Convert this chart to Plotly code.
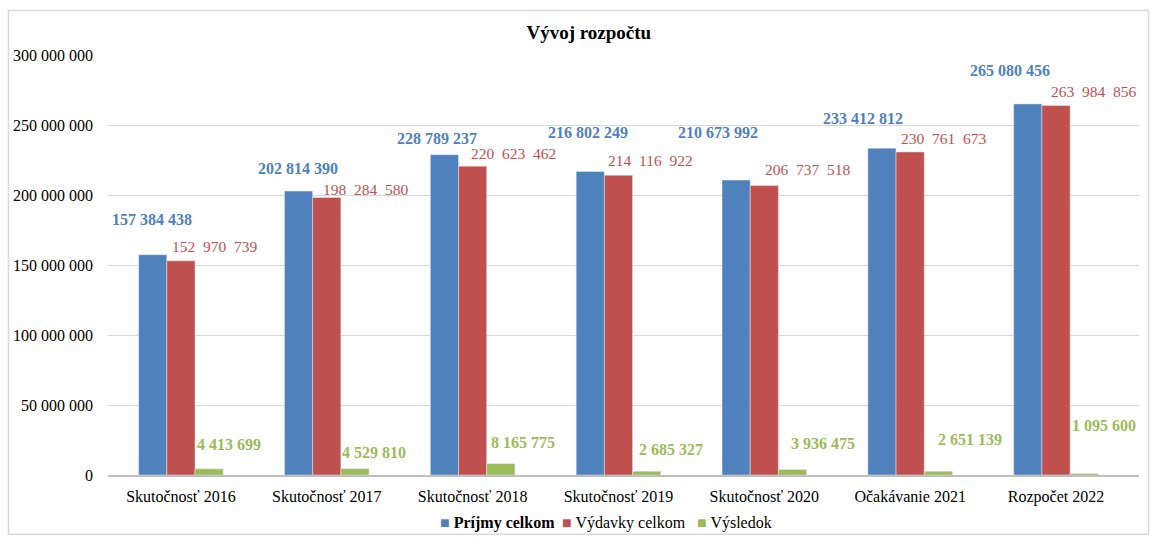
import plotly.graph_objects as go

categories = ["Skutočnosť 2016", "Skutočnosť 2017", "Skutočnosť 2018", "Skutočnosť 2019",
              "Skutočnosť 2020", "Očakávanie 2021", "Rozpočet 2022"]
prijmy = [157384438, 202814390, 228789237, 216802249, 210673992, 233412812, 265080456]
vydavky = [152970739, 198284580, 220623462, 214116922, 206737518, 230761673, 263984856]
vysledok = [4413699, 4529810, 8165775, 2685327, 3936475, 2651139, 1095600]
tick_vals = [0, 50000000, 100000000, 150000000, 200000000, 250000000, 300000000]
series_names = ["<b>Príjmy celkom</b>", "Výdavky celkom", "Výsledok"]

# label placement offsets (pixels) relative to category centre / bar top
blue_dx = [-29, -29, -36, -30, -46, -47, -46]
blue_dy = [35, 23, 16, 39, 48, 30, 33]
red_dx = [34, 39, 41, 32, 44, 34, 38]
red_dy = [14, 8, 13, 15, 16, 13, 14]
green_dx = [48, 47, 50, 53, 59, 60, 48]
green_dy = [24, 16, 21, 22, 26, 32, 48]

BLUE, RED, GREEN = "#4F81BD", "#C0504D", "#9BBB59"
COLORS = [BLUE, RED, GREEN]
FONT = "Times New Roman, Liberation Serif, serif"


def fmt(v, sep=" "):
    return f"{v:,}".replace(",", sep)


fig = go.Figure()
for name, vals, col in zip(series_names, [prijmy, vydavky, vysledok], COLORS):
    fig.add_bar(x=categories, y=vals, name=name, marker_color=col, showlegend=False)

ann = []
for i, c in enumerate(categories):
    ann.append(dict(x=c, y=prijmy[i], xref="x", yref="y", text="<b>" + fmt(prijmy[i]) + "</b>",
                    showarrow=False, xshift=blue_dx[i], yshift=blue_dy[i],
                    font=dict(family=FONT, size=16, color=BLUE)))
    ann.append(dict(x=c, y=vydavky[i], xref="x", yref="y", text=fmt(vydavky[i], "\u2002"),
                    showarrow=False, xshift=red_dx[i], yshift=red_dy[i],
                    font=dict(family=FONT, size=15.5, color=RED)))
    ann.append(dict(x=c, y=vysledok[i], xref="x", yref="y", text="<b>" + fmt(vysledok[i]) + "</b>",
                    showarrow=False, xshift=green_dx[i], yshift=green_dy[i],
                    font=dict(family=FONT, size=16, color=GREEN)))

W, H = 1150, 537
L, R, T, B = 108, 1139, 54.5, 475.5
pw, ph = R - L, B - T


def px(x):
    return (x - L) / pw


def py(y):
    return (B - y) / ph


# manual legend
legend_x = [438, 560, 695]
for name, col, lx in zip(series_names, COLORS, legend_x):
    ann.append(dict(xref="paper", yref="paper", x=px(lx), y=py(524), xanchor="left", yanchor="middle",
                    showarrow=False,
                    text=f'<span style="color:{col}">■</span> {name}',
                    font=dict(family=FONT, size=16, color="black")))

fig.update_layout(
    width=W, height=H,
    margin=dict(l=L, r=W - R, t=T, b=H - B, autoexpand=False),
    paper_bgcolor="white", plot_bgcolor="white",
    barmode="group", bargap=0.42, bargroupgap=0,
    showlegend=False,
    title=dict(text="<b>Vývoj rozpočtu</b>", x=0.512, xanchor="center", y=1 - 32 / H, yanchor="middle",
               font=dict(family=FONT, size=19, color="black")),
    font=dict(family=FONT, size=16, color="black"),
    annotations=ann,
    shapes=[dict(type="rect", xref="paper", yref="paper",
                 x0=px(8.5), x1=px(1148.5), y0=py(535), y1=py(10),
                 line=dict(color="#D9D9D9", width=1.5), fillcolor="rgba(0,0,0,0)", layer="below")],
)
fig.update_yaxes(range=[0, 300000000], tickvals=tick_vals, ticktext=[fmt(v) for v in tick_vals],
                 showgrid=True, gridcolor="#D9D9D9", gridwidth=1.3, zeroline=False,
                 showline=False, ticks="", ticklabelstandoff=14, automargin=False,
                 tickfont=dict(family=FONT, size=16, color="black"))
fig.update_xaxes(showline=True, linecolor="#BFBFBF", linewidth=1.5, ticks="", automargin=False,
                 tickfont=dict(family=FONT, size=16, color="black"), ticklabelstandoff=6)

fig.write_html("out.html", config={"displayModeBar": False},
               post_script="document.body.style.margin='0';document.body.style.overflow='hidden';")
